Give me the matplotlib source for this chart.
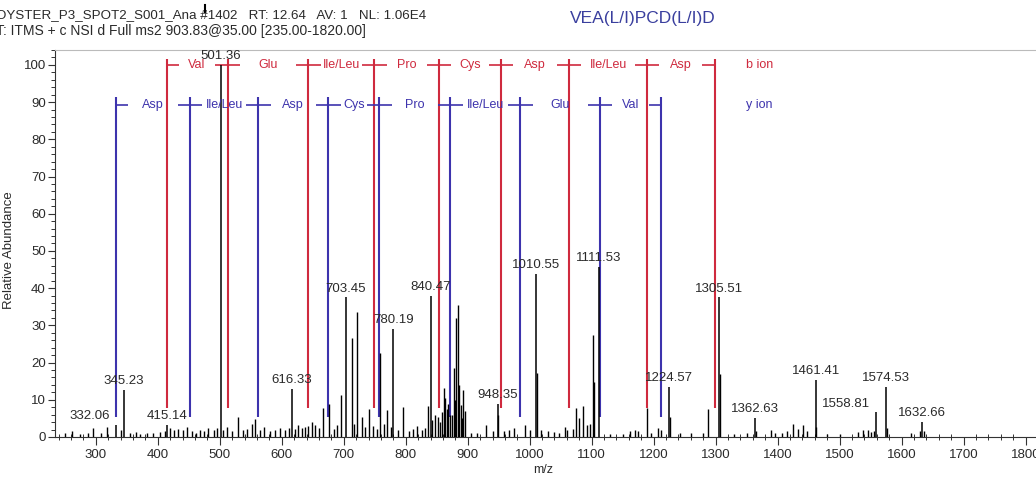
import matplotlib
matplotlib.use("Agg")
import matplotlib.pyplot as plt
from matplotlib.lines import Line2D
from matplotlib.ticker import MultipleLocator

plt.rcParams['font.family'] = ['Liberation Sans', 'DejaVu Sans']

# labelled peaks (m/z, relative abundance)
label_mz = [332.06, 345.23, 415.14, 501.36, 616.33, 703.45, 780.19, 840.47, 948.35,
            1010.55, 1111.53, 1224.57, 1305.51, 1362.63, 1461.41, 1558.81, 1574.53, 1632.66]
label_int = [3.2, 12.6, 3.2, 100.0, 13.0, 37.5, 29.0, 37.9, 9.0,
             43.8, 45.8, 13.4, 37.5, 5.2, 15.3, 6.6, 13.5, 4.1]

# other centroid peaks
peak_mz = [250, 262, 275, 288, 296.1, 308, 317.7, 340, 355, 365.0, 372, 383.2, 392, 403.7,
           411, 419.8, 426, 433.2, 441, 446.8, 455, 462, 468.2, 475, 481.6, 490, 496, 506,
           511.3, 520, 530.0, 537, 543.5, 551.6, 556.9, 565, 572, 581.1, 589, 597.3, 605,
           611, 622, 626.8, 632, 637.6, 643, 648.4, 653.7, 660, 667.1, 676.3, 684, 689,
           695.2, 712.9, 716, 721.0, 729.0, 735, 741.3, 748, 753, 758.5, 765, 770.3, 776,
           788, 796.1, 805, 811, 817.7, 826, 831, 836.5, 842, 847.3, 852.6, 855, 858.1,
           862.3, 864, 867, 869, 871.5, 874, 877.9, 880, 881.1, 884.8, 886, 888.7, 890,
           891.9, 895, 905, 915, 929.5, 940, 949.4, 958, 967.1, 975, 992.4, 1000, 1011.8,
           1018, 1030.0, 1040, 1048, 1056.6, 1060, 1070, 1074.7, 1080, 1085.5, 1091.9,
           1097, 1102.6, 1104.2, 1130, 1150, 1161.1, 1169.2, 1175, 1189.7, 1195, 1207.4,
           1212, 1225.6, 1242.7, 1260, 1280, 1288.1, 1307.1, 1330, 1350, 1365, 1388.7,
           1395, 1406.5, 1415, 1424.2, 1433.2, 1441.3, 1447, 1462.5, 1480, 1500, 1529.0,
           1538.2, 1545, 1550, 1556, 1577, 1614.5, 1630, 1636]
peak_int = [1.0, 1.5, 0.8, 1.2, 2.3, 1.0, 2.8, 1.8, 1.0, 1.4, 0.9, 1.2, 1.1, 1.4,
            1.6, 2.3, 1.9, 2.2, 2.0, 2.8, 1.7, 1.2, 2.0, 1.5, 2.3, 1.8, 2.4, 1.9,
            2.8, 1.6, 5.5, 1.8, 2.2, 3.6, 4.9, 2.0, 2.6, 1.5, 1.9, 2.3, 2.0,
            2.5, 2.1, 3.2, 2.4, 2.8, 3.0, 4.1, 3.2, 2.5, 7.7, 9.0, 2.2, 3.1,
            11.3, 26.5, 3.5, 33.7, 5.5, 2.6, 7.6, 3.0, 2.2, 22.5, 3.4, 7.3, 2.8,
            2.0, 8.0, 1.6, 2.1, 3.0, 1.9, 2.5, 8.3, 4.5, 5.9, 5.5, 4.0, 6.8,
            13.1, 10.5, 7.5, 9.0, 5.9, 6.0, 18.5, 10.0, 31.9, 35.5, 14.0, 8.7, 5.0,
            12.6, 7.0, 1.2, 1.0, 3.2, 1.5, 6.0, 1.6, 2.0, 2.3, 3.2, 1.8, 17.1,
            2.0, 1.5, 1.3, 1.0, 2.8, 1.9, 2.2, 7.7, 5.0, 8.3, 3.2,
            3.5, 27.4, 14.9, 0.9, 0.8, 1.5, 1.8, 1.5, 7.9, 1.2, 2.3,
            1.8, 5.5, 1.2, 1.0, 1.0, 7.6, 17.0, 0.8, 1.0, 1.5, 1.8,
            1.2, 1.2, 1.5, 3.5, 2.2, 3.2, 1.5, 2.8, 0.8, 0.7, 1.4,
            1.8, 1.8, 1.3, 1.5, 2.5, 1.1, 1.5, 1.5]

# fragment ladders
b_mz = [414.5, 512.6, 642.9, 749.4, 853.7, 953.7, 1063.4, 1189.2, 1298.1]
b_res = ['Val', 'Glu', 'Ile/Leu', 'Pro', 'Cys', 'Asp', 'Ile/Leu', 'Asp']
y_mz = [332.7, 452.1, 562.3, 675.2, 757.4, 871.8, 984.7, 1113.4, 1211.8]
y_res = ['Asp', 'Ile/Leu', 'Asp', 'Cys', 'Pro', 'Ile/Leu', 'Glu', 'Val']

RED = '#cf2a3e'
BLUE = '#3d33ad'
TXT = '#2a2a2a'

fig = plt.figure(figsize=(10.36, 4.79), dpi=100)
ax = fig.add_axes([0.0535, 0.0877, 0.9485, 0.8079])
ax.set_xlim(235, 1820)
ax.set_ylim(0, 104)


def ladder(xs, names, row, top, bottom, color):
    stub = 20
    ax.vlines(xs, bottom, top, color=color, lw=1.5, zorder=2)
    for i, name in enumerate(names):
        x0, x1 = xs[i], xs[i + 1]
        ax.hlines(row, x0, x0 + stub, color=color, lw=1.2, zorder=2)
        ax.hlines(row, x1 - stub, x1, color=color, lw=1.2, zorder=2)
        ax.text((x0 + x1) / 2, row, name, color=color, fontsize=9,
                ha='center', va='center', zorder=4)


ladder(b_mz, b_res, 100.0, 101.5, 7.7, RED)
ladder(y_mz, y_res, 89.2, 91.3, 5.5, BLUE)
ax.text(1371, 100.0, 'b ion', color=RED, fontsize=9, ha='center', va='center')
ax.text(1371, 89.2, 'y ion', color=BLUE, fontsize=9, ha='center', va='center')

ax.vlines(peak_mz, 0, peak_int, color='black', lw=1.0, zorder=3)
ax.vlines(label_mz, 0, label_int, color='black', lw=1.1, zorder=3)

shift = {332.06: -19, 1558.81: -22}
for mz, h in zip(label_mz, label_int):
    ax.annotate(f'{mz:.2f}', (mz, h), xytext=(shift.get(mz, 0), 2),
                textcoords='offset points', ha='center', va='bottom',
                fontsize=9.5, color=TXT, zorder=5)

# axes styling
ax.spines['right'].set_visible(False)
ax.spines['top'].set_color('#bbbbbb')
ax.spines['top'].set_linewidth(0.8)
ax.spines['left'].set_color('#333333')
ax.spines['bottom'].set_color('#333333')

ax.xaxis.set_major_locator(MultipleLocator(100))
ax.xaxis.set_minor_locator(MultipleLocator(20))
ax.yaxis.set_major_locator(MultipleLocator(10))
ax.yaxis.set_minor_locator(MultipleLocator(2))
ax.tick_params(axis='x', which='major', direction='out', length=6, width=0.8,
               labelsize=9.5, labelcolor=TXT, color='#333333', pad=3)
ax.tick_params(axis='x', which='minor', direction='inout', length=5, width=0.7, color='#333333')
ax.tick_params(axis='y', which='major', direction='out', length=5, width=0.8,
               labelsize=9.5, labelcolor=TXT, color='#333333', pad=2)
ax.tick_params(axis='y', which='minor', direction='out', length=3, width=0.7, color='#333333')
ax.tick_params(top=False, right=False)

ax.set_ylabel('Relative Abundance', fontsize=9.5, color=TXT)
ax.yaxis.set_label_coords(-0.041, 0.483)
ax.set_xlabel('m/z', fontsize=9, color=TXT)
ax.xaxis.set_label_coords(0.496, -0.07)

fig.text(-0.004, 0.968, 'OYSTER_P3_SPOT2_S001_Ana #1402   RT: 12.64   AV: 1   NL: 1.06E4',
         fontsize=9.6, color=TXT, ha='left', va='center')
fig.text(-0.004, 0.935, 'T: ITMS + c NSI d Full ms2 903.83@35.00 [235.00-1820.00]',
         fontsize=10, color=TXT, ha='left', va='center')
fig.text(0.62, 0.962, 'VEA(L/I)PCD(L/I)D', fontsize=12.5, color='#3a3f9e',
         ha='center', va='center')
# short scan-header tick mark
fig.add_artist(Line2D([0.198, 0.198], [0.975, 0.99], color='black', lw=1.5))

fig.savefig('out.png', dpi=100)
